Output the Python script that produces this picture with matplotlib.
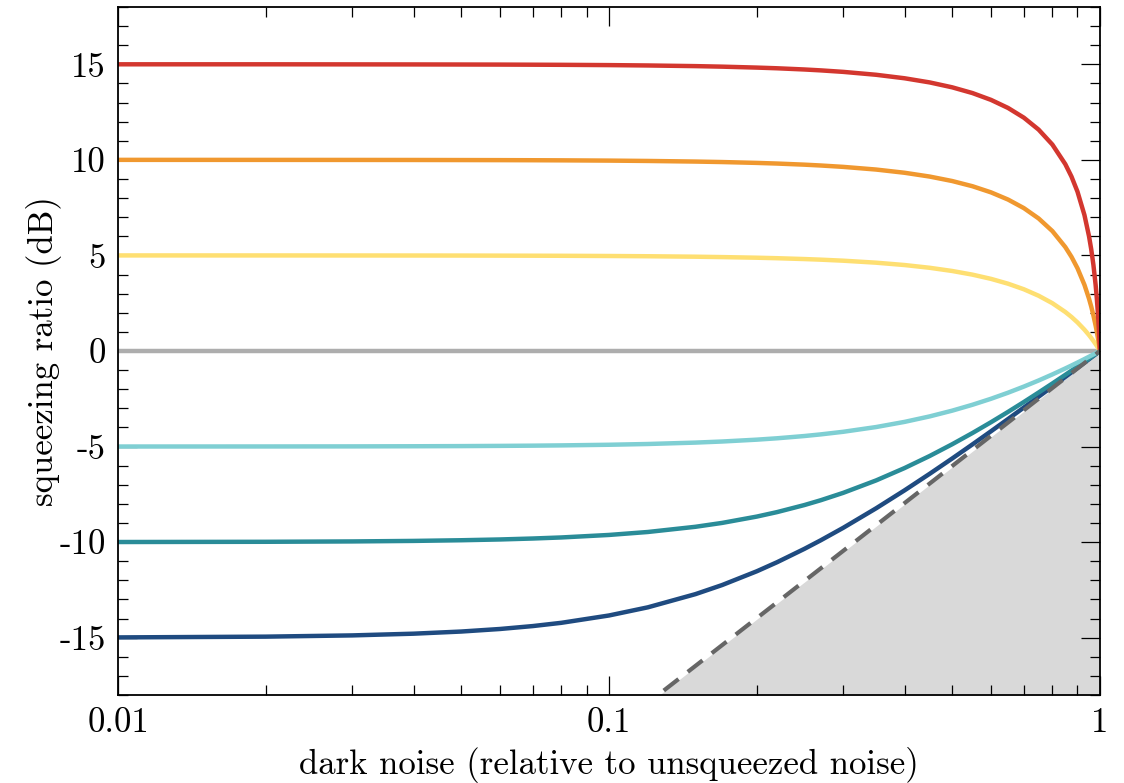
import matplotlib
matplotlib.use('Agg')
import matplotlib.pyplot as plt
from matplotlib.ticker import FixedLocator, LogLocator, MultipleLocator, NullFormatter

plt.rcParams['font.family'] = 'serif'
plt.rcParams['font.serif'] = ['cmr10']
plt.rcParams['mathtext.fontset'] = 'cm'
plt.rcParams['axes.formatter.use_mathtext'] = True

# dark noise (relative to unsqueezed noise)
dark = [0.01, 0.02, 0.03, 0.04, 0.05, 0.06, 0.07, 0.08, 0.1, 0.12, 0.15, 0.17, 0.2, 0.22,
        0.25, 0.27, 0.3, 0.35, 0.4, 0.45, 0.5, 0.55, 0.6, 0.65, 0.7, 0.75, 0.8, 0.85,
        0.875, 0.9, 0.93, 0.95, 0.96, 0.97, 0.98, 0.985, 0.99, 0.995, 1.0]

# measured squeezing ratio (dB) for each initial squeezing level
sq_p15 = [15.00, 15.00, 14.996, 14.993, 14.989, 14.985, 14.979, 14.973, 14.958, 14.939, 14.905,
          14.877, 14.828, 14.792, 14.729, 14.682, 14.604, 14.452, 14.269, 14.052, 13.796, 13.495,
          13.138, 12.715, 12.206, 11.583, 10.800, 9.776, 9.126, 8.337, 7.107, 6.005, 5.316,
          4.487, 3.450, 2.815, 2.066, 1.156, 0.0]
sq_p10 = [10.00, 9.998, 9.996, 9.994, 9.990, 9.986, 9.981, 9.975, 9.961, 9.943, 9.911,
          9.886, 9.841, 9.807, 9.749, 9.705, 9.633, 9.493, 9.325, 9.126, 8.893, 8.620,
          8.299, 7.922, 7.474, 6.935, 6.274, 5.438, 4.927, 4.330, 3.456, 2.736, 2.320,
          1.852, 1.323, 1.031, 0.715, 0.373, 0.0]
sq_p5 = [5.00, 4.999, 4.997, 4.995, 4.993, 4.989, 4.985, 4.981, 4.970, 4.957, 4.933,
         4.913, 4.880, 4.854, 4.810, 4.778, 4.724, 4.620, 4.497, 4.353, 4.186, 3.994,
         3.773, 3.519, 3.228, 2.891, 2.500, 2.041, 1.781, 1.495, 1.113, 0.831, 0.680,
         0.522, 0.357, 0.271, 0.183, 0.093, 0.0]
sq_0 = [0.0] * len(dark)
sq_m5 = [-4.999, -4.996, -4.992, -4.985, -4.977, -4.966, -4.954, -4.940, -4.907, -4.867, -4.794,
         -4.737, -4.640, -4.568, -4.450, -4.364, -4.228, -3.980, -3.710, -3.423, -3.123, -2.814,
         -2.500, -2.182, -1.862, -1.544, -1.227, -0.914, -0.759, -0.605, -0.421, -0.300, -0.239,
         -0.179, -0.119, -0.089, -0.060, -0.030, 0.0]
sq_m10 = [-9.996, -9.984, -9.965, -9.938, -9.903, -9.862, -9.812, -9.757, -9.626, -9.471, -9.199,
          -8.996, -8.665, -8.430, -8.062, -7.809, -7.423, -6.773, -6.126, -5.494, -4.881, -4.292,
          -3.726, -3.185, -2.668, -2.173, -1.701, -1.248, -1.029, -0.814, -0.563, -0.399, -0.318,
          -0.237, -0.158, -0.118, -0.078, -0.039, 0.0]
sq_m15 = [-14.987, -14.947, -14.882, -14.792, -14.680, -14.546, -14.393, -14.223, -13.840, -13.413, -12.723,
          -12.247, -11.527, -11.052, -10.355, -9.905, -9.253, -8.232, -7.292, -6.426, -5.627, -4.887,
          -4.200, -3.558, -2.957, -2.393, -1.862, -1.359, -1.118, -0.883, -0.609, -0.431, -0.343,
          -0.256, -0.170, -0.127, -0.084, -0.042, 0.0]

# limit for infinite squeezing: straight line on the log axis
limit_x = [0.01, 1.0]
limit_y = [-40.0, 0.0]

curves = [sq_0, sq_m15, sq_m10, sq_m5, sq_p5, sq_p10, sq_p15]
colors = ['#adadad', '#1f4b80', '#2a8c98', '#7fcfd3', '#fedf72', '#f0982f', '#d3372f']

fig = plt.figure(figsize=(11.24, 7.83), dpi=100)
ax = fig.add_axes([0.105, 0.1124, 0.8736, 0.8787])

ax.fill_between(limit_x, limit_y, -40, color='#d9d9d9', lw=0, zorder=1)
ax.plot(limit_x, limit_y, color='white', lw=2.2, zorder=2)

for ys, c in zip(curves, colors):
    ax.plot(dark, ys, color=c, lw=3.2, zorder=3)

ax.plot(limit_x, limit_y, color='#666666', lw=3.0, dashes=(4.5, 2.8), zorder=4)

ax.set_xscale('log')
ax.set_xlim(0.01, 1)
ax.set_ylim(-18, 18)

ax.xaxis.set_major_locator(FixedLocator([0.01, 0.1, 1]))
ax.set_xticklabels(['0.01', '0.1', '1'])
ax.xaxis.set_minor_locator(LogLocator(base=10, subs=range(2, 10)))
ax.xaxis.set_minor_formatter(NullFormatter())

yt = [-15, -10, -5, 0, 5, 10, 15]
ax.set_yticks(yt)
ax.set_yticklabels([str(v) for v in yt])
ax.yaxis.set_minor_locator(MultipleLocator(1))

ax.tick_params(which='both', direction='in', top=True, right=True, width=0.9, colors='black')
ax.tick_params(which='major', length=14, labelsize=25, pad=9)
ax.tick_params(which='minor', length=7)
for s in ax.spines.values():
    s.set_linewidth(1.3)
    s.set_zorder(5)

ax.set_xlabel('dark noise (relative to unsqueezed noise)', fontsize=25, labelpad=6)
ax.set_ylabel('squeezing ratio (dB)', fontsize=25, labelpad=-2)

fig.savefig('out.png', dpi=100)
